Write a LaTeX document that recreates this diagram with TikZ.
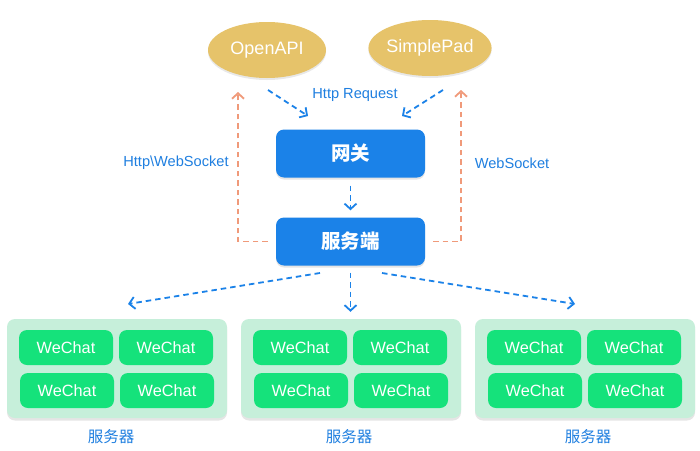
\documentclass[tikz,border=0pt]{standalone}
\usepackage{fontspec}
\setmainfont{Liberation Sans}
\newfontfamily\cjk{Noto Sans CJK SC}
\usetikzlibrary{arrows.meta,shadows,shapes.geometric}
\definecolor{ellc}{HTML}{E6C36A}
\definecolor{bluec}{HTML}{1B82E8}
\definecolor{greenc}{HTML}{15E27B}
\definecolor{lgreenc}{HTML}{C6EFDA}
\definecolor{orangec}{HTML}{F09A7A}
\definecolor{labc}{HTML}{1F7FE0}
\tikzset{
  ell/.style={ellipse, fill=ellc, minimum width=118pt, minimum height=56pt, inner sep=0pt, text=white, font=\fontsize{18}{20}\selectfont, drop shadow={opacity=0.18, shadow xshift=0pt, shadow yshift=-2pt}},
  bluebox/.style={rectangle, rounded corners=8pt, fill=bluec, minimum width=149pt, minimum height=48pt, inner sep=0pt, text=white, font=\cjk\bfseries\fontsize{19.5}{22}\selectfont, drop shadow={opacity=0.2, shadow xshift=0pt, shadow yshift=-2pt}},
  grp/.style={rectangle, rounded corners=8pt, fill=lgreenc, minimum width=220pt, minimum height=99pt, inner sep=0pt, drop shadow={opacity=0.2, shadow xshift=0pt, shadow yshift=-2.5pt}},
  wc/.style={rectangle, rounded corners=8pt, fill=greenc, minimum width=94pt, minimum height=35pt, inner sep=0pt, text=white, font=\fontsize{16.3}{18}\selectfont},
  lab/.style={text=labc, font=\fontsize{14.6}{16}\selectfont, inner sep=0pt},
  srvlab/.style={text=labc, font=\cjk\fontsize{15.5}{18}\selectfont, inner sep=0pt},
  bdash/.style={draw=bluec, line width=1.8pt, dash pattern=on 5.5pt off 4pt, -{Straight Barb[length=5.5pt,width=12pt,line width=1.8pt]}},
  odash/.style={draw=orangec, line width=1.8pt, dash pattern=on 5.5pt off 4pt, -{Straight Barb[length=5.5pt,width=12pt,line width=1.8pt]}},
}
\begin{document}
\begin{tikzpicture}[x=1pt,y=-1pt]
\useasboundingbox (0,0) rectangle (700,450);
\fill[white] (0,0) rectangle (700,450);

\node[ell] (oa) at (267,50) {OpenAPI};
\node[ell] (sp) at (430,48) {SimplePad};
\node[bluebox] (gw) at (350.5,153.5) {网关};
\node[bluebox] (srv) at (350.5,241.5) {服务端};

% groups
\node[grp] (g1) at (117,368.5) {};
\node[grp] (g2) at (351,368.5) {};
\node[grp] (g3) at (585,368.5) {};
\foreach \g/\cx in {1/117,2/351,3/585}{
  \node[wc] (w\g a) at (\cx-51,347.5) {WeChat};
  \node[wc] (w\g b) at (\cx+49,347.5) {WeChat};
  \node[wc] (w\g c) at (\cx-50,390.5) {WeChat};
  \node[wc] (w\g d) at (\cx+50,390.5) {WeChat};
}
\node[srvlab] (s1) at (111,437) {服务器};
\node[srvlab] (s2) at (349,437) {服务器};
\node[srvlab] (s3) at (588,437) {服务器};

% labels
\node[lab] (hr) at (355,95) {Http Request};
\node[lab] (hw) at (176,163) {Http\textbackslash WebSocket};
\node[lab] (ws) at (512,163) {WebSocket};

% blue arrows top
\coordinate (a1s) at (268,90);
\coordinate (a1e) at (308,116);
\coordinate (a2s) at (443,90);
\coordinate (a2e) at (402,116);
\draw[bdash] (a1s) -- (a1e);
\draw[bdash] (a2s) -- (a2e);
\draw[bdash] ([yshift=-8pt]gw.south) -- ([yshift=7pt]srv.north);

% orange
\coordinate (ol) at (238,92);
\coordinate (or) at (461,90);
\draw[odash] ([xshift=-8pt]srv.west) -| (ol);
\draw[odash] ([xshift=8pt]srv.east) -| (or);

% bottom arrows
\coordinate (b1s) at (320,273);
\coordinate (b1e) at (128,304);
\coordinate (b3s) at (382,273);
\coordinate (b3e) at (575,304);
\draw[bdash] (b1s) -- (b1e);
\draw[bdash] ([yshift=-7pt]srv.south) -- ([yshift=7pt]g2.north -| srv.south);
\draw[bdash] (b3s) -- (b3e);
\end{tikzpicture}
\end{document}
